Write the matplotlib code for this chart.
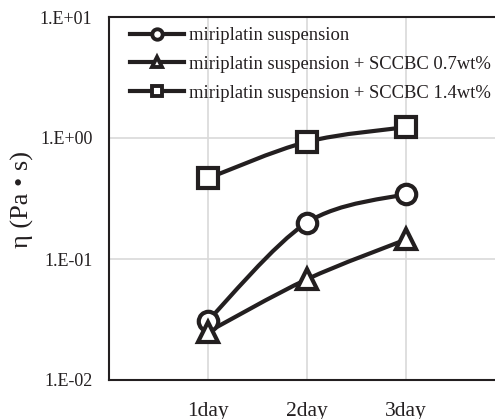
import matplotlib
matplotlib.use("Agg")
import matplotlib.pyplot as plt
import numpy as np
from matplotlib.lines import Line2D
from matplotlib.path import Path
from matplotlib.patches import PathPatch

DAYS = ["1day", "2day", "3day"]
SUSPENSION = [0.031, 0.20, 0.345]
SCCBC_07 = [0.025, 0.068, 0.145]
SCCBC_14 = [0.465, 0.93, 1.23]
SERIES = [
    ("miriplatin suspension", SUSPENSION, "o"),
    ("miriplatin suspension + SCCBC 0.7wt%", SCCBC_07, "^"),
    ("miriplatin suspension + SCCBC 1.4wt%", SCCBC_14, "s"),
]
INK = "#231f20"


def smooth_path(xs, ys):
    """Excel-like smoothed line: cubic Bezier in log space between points."""
    lx = np.asarray(xs, float)
    ly = np.log10(ys)
    n = len(lx)
    verts = [(lx[0], ly[0])]
    codes = [Path.MOVETO]
    for i in range(n - 1):
        p0 = np.array([lx[max(i - 1, 0)], ly[max(i - 1, 0)]])
        p1 = np.array([lx[i], ly[i]])
        p2 = np.array([lx[i + 1], ly[i + 1]])
        p3 = np.array([lx[min(i + 2, n - 1)], ly[min(i + 2, n - 1)]])
        c1 = p1 + (p2 - p0) / 6
        c2 = p2 - (p3 - p1) / 6
        verts += [tuple(c1), tuple(c2), tuple(p2)]
        codes += [Path.CURVE4] * 3
    verts = [(x, 10 ** y) for x, y in verts]
    return Path(verts, codes)


plt.rcParams["font.family"] = ["Liberation Serif", "DejaVu Serif"]
fig = plt.figure(figsize=(4.95, 4.19), dpi=100)
ax = fig.add_axes([109 / 495, 1 - 380 / 419, 396 / 495, 363 / 419])

x = np.arange(1, len(DAYS) + 1)
handles = []
for label, vals, mk in SERIES:
    ax.add_patch(PathPatch(smooth_path(x, vals), facecolor="none",
                           edgecolor=INK, lw=3, zorder=3))
    ax.plot(x, vals, linestyle="none", marker=mk, ms=14, mfc="white",
            mec=INK, mew=3, zorder=4)
    handles.append(Line2D([], [], color=INK, lw=3, marker=mk, ms=7.5,
                          mfc="white", mec=INK, mew=2.8, label=label))

ax.set_yscale("log")
ax.set_ylim(0.01, 10)
ax.set_xlim(0, 4)
ax.set_xticks(x)
ax.set_xticklabels(DAYS, fontsize=15.5)
ax.set_yticks([0.01, 0.1, 1, 10])
ax.set_yticklabels(["1.E-02", "1.E-01", "1.E+00", "1.E+01"], fontsize=13)
ax.minorticks_off()
ax.tick_params(length=0, colors=INK)
ax.tick_params(axis="y", pad=12)
ax.tick_params(axis="x", pad=16)
ax.grid(True, color="#d9d9d9", lw=1.2, zorder=0)
ax.set_axisbelow(True)
for s in ("left", "bottom", "top"):
    ax.spines[s].set_color(INK)
    ax.spines[s].set_linewidth(1.5)
ax.spines["right"].set_visible(False)

fig.text(22 / 495, 1 - 199 / 419, "η (Pa • s)", fontsize=19, color=INK,
         rotation=90, ha="center", va="center")

ax.legend(handles=handles, loc="upper left", bbox_to_anchor=(0.033, 0.992),
          frameon=False, fontsize=13.4, handlelength=2.95, handletextpad=0.25,
          labelspacing=0.62, borderaxespad=0, labelcolor=INK)

fig.savefig("out.png", dpi=100)
